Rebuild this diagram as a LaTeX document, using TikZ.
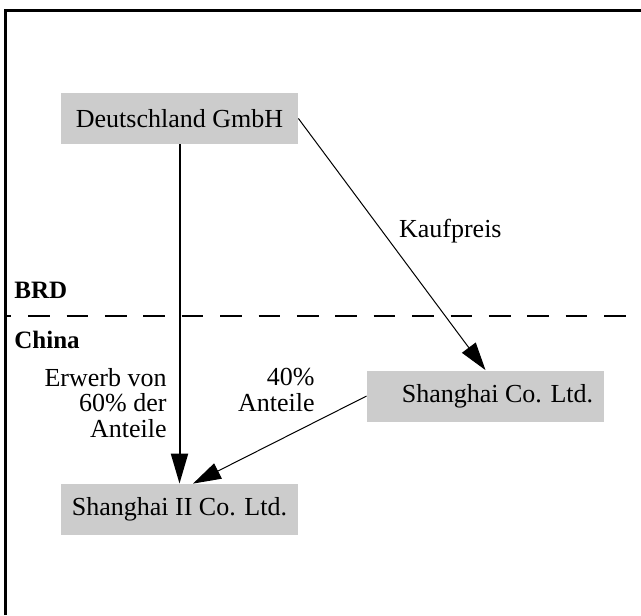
\documentclass[tikz,border=0pt]{standalone}
\usepackage{fontspec}
\setmainfont{Liberation Serif}
\usetikzlibrary{arrows.meta,calc}

\definecolor{boxgray}{RGB}{204,204,204}

\tikzset{
  entity/.style={fill=boxgray, draw=none, minimum width=118.5pt, minimum height=25.5pt,
                 inner sep=0pt, font=\fontsize{13}{13}\selectfont},
  flow/.style={line width=0.5pt, -{Triangle[length=14pt,width=8.5pt]}},
  mainflow/.style={line width=1pt, -{Triangle[length=15pt,width=8.5pt]}},
  lbl/.style={inner sep=0pt, font=\fontsize{13}{12.75}\selectfont},
  region/.style={inner sep=0pt, font=\fontsize{12.5}{13}\selectfont\bfseries},
  border/.style={line width=1.5pt, line join=miter},
  boundary/.style={line width=1pt, dash pattern=on 10.8pt off 8.4pt, dash phase=7.9pt}
}

\begin{document}
\begin{tikzpicture}[x=0.5pt, y=-0.5pt]
  \useasboundingbox (0,0) rectangle (641,615);

  % frame, open to the right and bottom
  \draw[border] (5.5,615) -- (5.5,10.5) -- (641,10.5);

  % border between the two countries
  \coordinate (bl) at (5.5,315.5);
  \coordinate (br) at (641,315.5);
  \draw[boundary] (bl) -- (br);
  \node[region, anchor=base west] (brd) at (14,298) {BRD};
  \node[region, anchor=base west] (china) at (14,348) {China};

  % companies
  \node[entity] (dg) at (179.5,118.5) {Deutschland GmbH};
  \node[entity] (sh) at (485.5,396) {\hspace*{12pt}Shanghai Co. Ltd.};
  \node[entity] (sh2) at (179.5,509.5) {Shanghai II Co. Ltd.};

  % flows
  \draw[mainflow] (dg.south) -- (sh2.north);
  \draw[flow] (dg.east) -- (sh.north);
  \coordinate (t40) at ($(sh2.north)+(13.5,0)$);
  \draw[flow] (sh.west) -- (t40);

  % labels
  \node[lbl, anchor=base east] (kp) at (502,237) {Kaufpreis};
  \node[lbl, align=right, anchor=north east] (erw) at (167,368) {Erwerb von\\60\% der\\Anteile};
  \node[lbl, align=right, anchor=north east] (ant) at (315,368) {40\%\\Anteile};
\end{tikzpicture}
\end{document}
